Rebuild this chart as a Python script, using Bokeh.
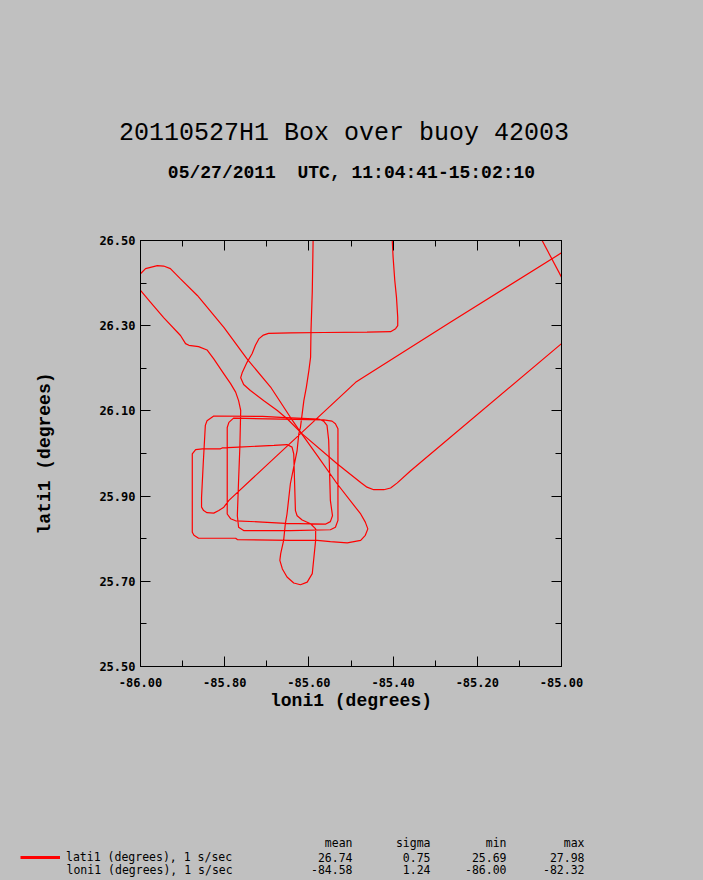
from bokeh.plotting import figure
from bokeh.layouts import column
from bokeh.models import (Range1d, FixedTicker, PrintfTickFormatter, LinearAxis,
                          Legend, LegendItem)
from bokeh.core.properties import value
from bokeh.embed import file_html
from bokeh.resources import INLINE

# ---------------- text ----------------
TITLE = "20110527H1 Box over buoy 42003"
SUBTITLE = "05/27/2011\u00a0 UTC, 11:04:41-15:02:10"
X_LABEL = "loni1 (degrees)"
Y_LABEL = "lati1 (degrees)"

# ---------------- ticks ----------------
x_ticks = [-86.0, -85.8, -85.6, -85.4, -85.2, -85.0]
x_minor = [-85.9, -85.7, -85.5, -85.3, -85.1]
y_ticks = [25.5, 25.7, 25.9, 26.1, 26.3, 26.5]
y_minor = [25.6, 25.8, 26.0, 26.2, 26.4]

# ---------------- statistics block ----------------
stat_names = ["mean", "sigma", "min", "max"]
series_names = ["lati1 (degrees), 1 s/sec", "loni1 (degrees), 1 s/sec"]
lati1_stats = ["26.74", "0.75", "25.69", "27.98"]
loni1_stats = ["-84.58", "1.24", "-86.00", "-82.32"]

# ---------------- flight track (lon, lat) ----------------
# leg from the east edge, SW turn, NW through the buoy, hook, north exit
se_lon = [-85.000, -85.359, -85.390, -85.406, -85.422, -85.446,
          -85.462, -85.477, -85.533, -85.616, -85.651, -85.675,
          -85.707, -85.739, -85.755, -85.762, -85.758, -85.747,
          -85.735, -85.727, -85.719, -85.708, -85.696, -85.644,
          -85.565, -85.462, -85.406, -85.394, -85.389, -85.389,
          -85.392, -85.396, -85.400, -85.402]
se_lat = [26.258, 25.959, 25.931, 25.919, 25.915, 25.915,
          25.921, 25.932, 25.976, 26.046, 26.081, 26.101,
          26.124, 26.148, 26.162, 26.178, 26.191, 26.214,
          26.234, 26.254, 26.269, 26.278, 26.282, 26.283,
          26.284, 26.285, 26.286, 26.293, 26.300, 26.320,
          26.367, 26.406, 26.461, 26.500]

# southbound leg from the north edge, petal loop
south_lon = [-85.590, -85.592, -85.595, -85.596, -85.600, -85.606,
             -85.612, -85.620, -85.624, -85.628, -85.636, -85.644,
             -85.652, -85.656, -85.660, -85.667, -85.669, -85.663,
             -85.652, -85.636, -85.620, -85.604, -85.592, -85.588,
             -85.584, -85.584, -85.596, -85.616, -85.628, -85.632,
             -85.636, -85.640, -85.652]
south_lat = [26.500, 26.379, 26.289, 26.226, 26.195, 26.156,
             26.124, 26.062, 26.046, 26.007, 25.968, 25.929,
             25.858, 25.835, 25.796, 25.765, 25.749, 25.729,
             25.710, 25.696, 25.692, 25.698, 25.718, 25.757,
             25.796, 25.823, 25.835, 25.844, 25.854, 25.866,
             25.999, 26.015, 26.021]

# large south-west box
box4_lon = [-85.683, -85.767, -85.806, -85.810, -85.853, -85.869,
            -85.877, -85.877, -85.873, -85.862, -85.774, -85.770,
            -85.644, -85.580, -85.549, -85.509, -85.477, -85.466,
            -85.460, -85.466, -85.477]
box4_lat = [26.019, 26.015, 26.013, 26.011, 26.011, 26.009,
            25.999, 25.815, 25.808, 25.801, 25.801, 25.798,
            25.796, 25.796, 25.793, 25.790, 25.796, 25.808,
            25.823, 25.839, 25.858]

# NW diagonal through the buoy, turn at the west edge, back SE
nw_lon = [-85.533, -85.580, -85.620, -85.644, -85.691, -85.747,
          -85.802, -85.865, -85.905, -85.929, -85.945, -85.960,
          -85.988, -86.000, -86.004, -86.000, -85.976, -85.945,
          -85.905, -85.893, -85.885, -85.862, -85.842, -85.826,
          -85.802, -85.786, -85.774, -85.767, -85.762]
nw_lat = [25.929, 25.995, 26.050, 26.085, 26.156, 26.222,
          26.296, 26.371, 26.410, 26.434, 26.440, 26.441,
          26.434, 26.422, 26.405, 26.383, 26.355, 26.319,
          26.277, 26.258, 26.254, 26.251, 26.243, 26.222,
          26.187, 26.164, 26.144, 26.124, 26.101]

# nested boxes around the buoy
boxes_lon = [-85.764, -85.767, -85.770, -85.767, -85.755, -85.644,
             -85.549, -85.537, -85.531, -85.531, -85.537, -85.545,
             -85.565, -85.779, -85.790, -85.794, -85.794, -85.786,
             -85.774, -85.710, -85.656, -85.561, -85.549, -85.544,
             -85.549, -85.553, -85.557, -85.565, -85.577, -85.667,
             -85.710, -85.826, -85.842, -85.846, -85.851, -85.855,
             -85.855, -85.850, -85.842, -85.826, -85.814, -85.802,
             -85.790]
boxes_lat = [26.015, 25.937, 25.854, 25.827, 25.819, 25.819,
             25.821, 25.827, 25.843, 26.058, 26.070, 26.076,
             26.079, 26.083, 26.073, 26.061, 25.858, 25.847,
             25.842, 25.839, 25.836, 25.834, 25.840, 25.854,
             25.890, 26.031, 26.066, 26.076, 26.081, 26.085,
             26.087, 26.088, 26.077, 26.066, 25.976, 25.897,
             25.874, 25.866, 25.861, 25.860, 25.866, 25.874,
             25.890]

# exit to the north-east
ne_lon = [-85.489, -85.477, -85.264, -85.000]
ne_lat = [26.167, 26.175, 26.308, 26.471]

# short piece crossing the north-east corner
corner_lon = [-85.046, -85.000]
corner_lat = [26.500, 26.414]

main_lon = south_lon + box4_lon + nw_lon + boxes_lon + ne_lon
main_lat = south_lat + box4_lat + nw_lat + boxes_lat + ne_lat
assert len(se_lon) == len(se_lat)
assert len(main_lon) == len(main_lat)

BG = "#c0c0c0"
MONO = "Liberation Mono"
SMALL = "DejaVu Sans Mono"
W = 703
H_HEAD, H_MAIN, H_STATS = 200, 620, 60


def no_align(f):
    try:
        f.frame_align = False
    except Exception:
        pass


def blank_fig(h, y0, y1):
    f = figure(width=W, height=h, x_range=Range1d(0, W), y_range=Range1d(y0, y1),
               output_backend="svg", toolbar_location=None,
               x_axis_type=None, y_axis_type=None, min_border=0,
               background_fill_color=BG, border_fill_color=BG,
               outline_line_color=None)
    f.xgrid.visible = False
    f.ygrid.visible = False
    no_align(f)
    return f


# ---------------- header (titles) ----------------
head = blank_fig(H_HEAD, H_HEAD, 0)
head.text(x=[343.5], y=[133], text=[TITLE], text_font=value(MONO),
          text_font_size="25px", text_align="center", text_baseline="middle",
          text_color="black")
head.text(x=[351], y=[172.5], text=[SUBTITLE], text_font=value(MONO),
          text_font_size="18px", text_font_style="bold", text_align="center",
          text_baseline="middle", text_color="black")

# ---------------- main plot ----------------
p = figure(width=W, height=H_MAIN,
           x_range=Range1d(-86.0, -85.0), y_range=Range1d(25.5, 26.5),
           output_backend="svg", toolbar_location=None,
           min_border_left=140, min_border_right=142,
           min_border_top=40, min_border_bottom=154,
           background_fill_color=BG, border_fill_color=BG,
           outline_line_color="black", outline_line_width=1)
p.xgrid.visible = False
p.ygrid.visible = False
no_align(p)

p.multi_line(xs=[se_lon, main_lon, corner_lon], ys=[se_lat, main_lat, corner_lat],
             line_color="#ff0000", line_width=1.2)


def style_axis(ax, ticks, minor, show_labels=True):
    ax.ticker = FixedTicker(ticks=ticks, minor_ticks=minor)
    ax.formatter = PrintfTickFormatter(format="%.2f")
    ax.major_tick_in = 10
    ax.major_tick_out = 0
    ax.minor_tick_in = 6
    ax.minor_tick_out = 0
    ax.axis_line_color = "black"
    ax.major_tick_line_color = "black"
    ax.minor_tick_line_color = "black"
    ax.major_label_text_font = SMALL
    ax.major_label_text_font_style = "bold"
    ax.major_label_text_font_size = "12px"
    ax.major_label_text_color = "black" if show_labels else None


xa = p.xaxis[0]
ya = p.yaxis[0]
style_axis(xa, x_ticks, x_minor)
style_axis(ya, y_ticks, y_minor)
xa.major_label_standoff = 11
ya.major_label_standoff = 5
xa.axis_label = X_LABEL
ya.axis_label = Y_LABEL
for ax in (xa, ya):
    ax.axis_label_text_font = MONO
    ax.axis_label_text_font_style = "bold"
    ax.axis_label_text_font_size = "18px"
    ax.axis_label_text_color = "black"
xa.axis_label_standoff = 1
ya.axis_label_standoff = 41

top_ax = LinearAxis()
right_ax = LinearAxis()
style_axis(top_ax, x_ticks, x_minor, show_labels=False)
style_axis(right_ax, y_ticks, y_minor, show_labels=False)
p.add_layout(top_ax, "above")
p.add_layout(right_ax, "right")

# ---------------- statistics block ----------------
stats = blank_fig(H_STATS, 880, 820)
# legend key: the latitude track itself, styled thick; its data lie outside this
# panel's ranges, so only the legend sample is visible here
legend_r = stats.line(x=se_lon, y=se_lat, line_color="#ff0000", line_width=3)
legend = Legend(items=[LegendItem(label=series_names[0], renderers=[legend_r])],
                location=(20, 13), glyph_width=40, glyph_height=20,
                label_standoff=6, padding=0, margin=0, border_line_color=None,
                background_fill_alpha=0, label_text_font=SMALL,
                label_text_font_size="11.5px", label_text_color="black")
stats.add_layout(legend)

col_x = [352, 430, 506, 584]
row_y = [842, 857, 869]
sx, sy, st = [], [], []
for cx, name, v1, v2 in zip(col_x, stat_names, lati1_stats, loni1_stats):
    for txt, yy in zip((name, v1, v2), row_y):
        sx.append(cx)
        sy.append(yy)
        st.append(txt)
stats.text(x=sx, y=sy, text=st, text_font=value(SMALL), text_font_size="11.5px",
           text_align="right", text_baseline="middle", text_color="black")
stats.text(x=[66], y=[row_y[2]], text=[series_names[1]], text_font=value(SMALL),
           text_font_size="11.5px", text_align="left", text_baseline="middle",
           text_color="black")

layout = column(head, p, stats, spacing=0)
try:
    from bokeh.models import GlobalInlineStyleSheet
    layout.stylesheets = [GlobalInlineStyleSheet(css="body { background-color: #c0c0c0; }")]
except Exception:
    pass

open("out.html", "w").write(file_html(layout, INLINE))
